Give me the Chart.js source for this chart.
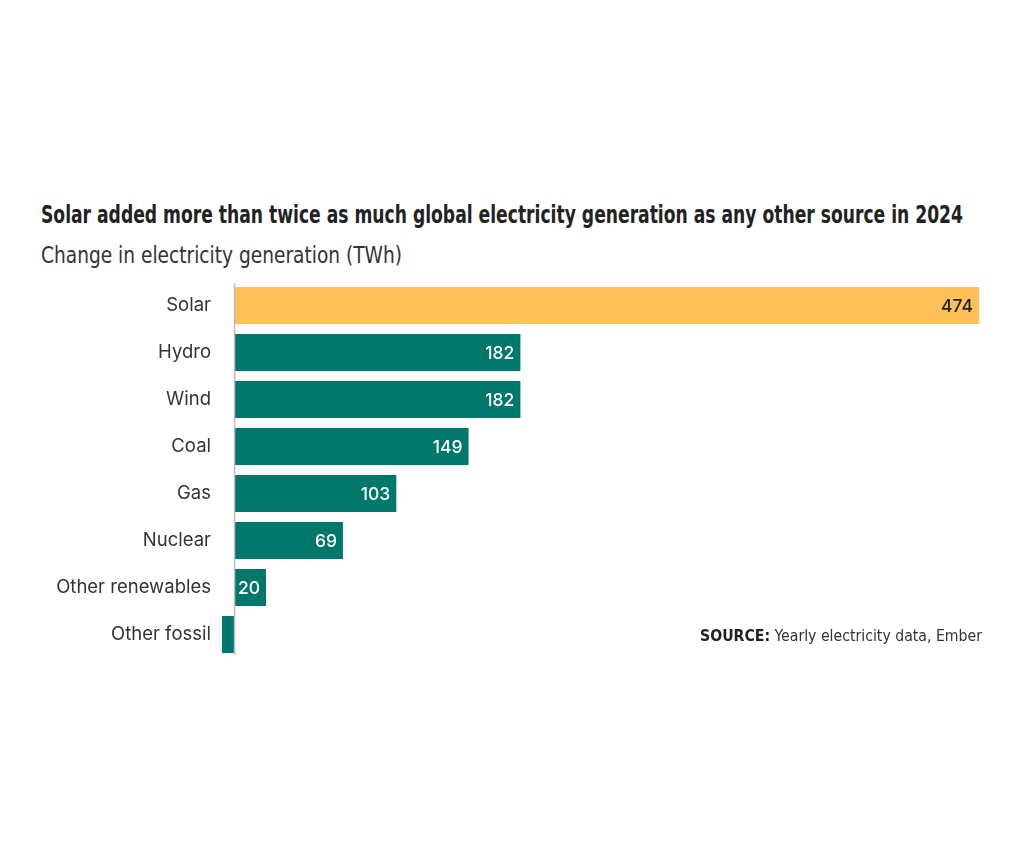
<!DOCTYPE html>
<html>
<head>
<meta charset="utf-8">
<script src="https://cdn.jsdelivr.net/npm/chart.js@4/dist/chart.umd.min.js"></script>
<style>
  html, body { margin: 0; padding: 0; background: #fff; }
  body { width: 1024px; height: 866px; position: relative; overflow: hidden; }
  .cond { font-family: "Liberation Sans Narrow", "DejaVu Sans Condensed", "Roboto Condensed", Roboto, sans-serif; font-stretch: condensed; transform-origin: left top; }
  #title { position: absolute; left: 41px; top: 200px; font-size: 25px; font-weight: bold; color: #222; white-space: nowrap; }
  #subtitle { position: absolute; left: 41px; top: 242px; font-size: 23px; font-weight: 300; color: #333; white-space: nowrap; }
  #source { position: absolute; left: 700px; top: 626px; font-size: 16.5px; color: #333; white-space: nowrap; }
  #source b { color: #222; }
  #wrap { position: absolute; left: 0; top: 282px; width: 1024px; height: 376px; }
</style>
</head>
<body>
<div id="title" class="cond" data-w="922">Solar added more than twice as much global electricity generation as any other source in 2024</div>
<div id="subtitle" class="cond" data-w="361">Change in electricity generation (TWh)</div>
<div id="wrap"><canvas id="chart"></canvas></div>
<div id="source" class="cond" data-w="282"><b>SOURCE:</b> Yearly electricity data, Ember</div>
<script>
// categorias y valores (TWh)
const sources = ['Solar', 'Hydro', 'Wind', 'Coal', 'Gas', 'Nuclear', 'Other renewables', 'Other fossil'];
const changeTWh = [474, 182, 182, 149, 103, 69, 20, -8];
const valueLabels = ['474', '182', '182', '149', '103', '69', '20', ''];

const SOLAR = '#FEC057';
const TEAL = '#00776B';
const labelFont = 'Inter, "Noto Sans", sans-serif';

// ajustar ancho de los textos condensados
document.querySelectorAll('[data-w]').forEach(el => {
  const w = el.getBoundingClientRect().width;
  el.style.transform = `scaleX(${Number(el.dataset.w) / w})`;
});

// etiquetas dentro de la barra
const barValues = {
  id: 'barValues',
  afterDatasetsDraw(chart) {
    const { ctx } = chart;
    const meta = chart.getDatasetMeta(0);
    ctx.save();
    ctx.font = '500 17.5px ' + labelFont;
    ctx.textAlign = 'right';
    ctx.textBaseline = 'middle';
    meta.data.forEach((bar, i) => {
      if (!valueLabels[i]) return;
      ctx.fillStyle = i === 0 ? '#222' : '#fff';
      ctx.fillText(valueLabels[i], bar.x - 6, bar.y + 1);
    });
    ctx.restore();
  }
};

// linea del cero
const zeroLine = {
  id: 'zeroLine',
  afterDatasetsDraw(chart) {
    const { ctx, chartArea } = chart;
    const x = chart.scales.x.getPixelForValue(0);
    ctx.save();
    ctx.strokeStyle = '#bdbdbd';
    ctx.lineWidth = 1.5;
    ctx.beginPath();
    ctx.moveTo(x, chartArea.top + 1);
    ctx.lineTo(x, chartArea.bottom - 3);
    ctx.stroke();
    ctx.restore();
  }
};

new Chart(document.getElementById('chart'), {
  type: 'bar',
  data: {
    labels: sources,
    datasets: [{
      data: changeTWh,
      backgroundColor: changeTWh.map((v, i) => i === 0 ? SOLAR : TEAL),
      borderWidth: 0,
      barPercentage: 0.79,
      categoryPercentage: 1
    }]
  },
  options: {
    indexAxis: 'y',
    responsive: true,
    maintainAspectRatio: false,
    animation: false,
    layout: { padding: { left: 0, right: 45, top: 0, bottom: 0 } },
    plugins: {
      legend: { display: false },
      tooltip: { enabled: false },
      title: { display: false }
    },
    scales: {
      x: {
        display: false,
        min: -8,
        max: 474
      },
      y: {
        grid: { display: false, drawTicks: false },
        border: { display: false },
        ticks: {
          color: '#333',
          padding: 11,
          font: { family: labelFont, size: 18.5 }
        },
        afterFit(scale) {
          scale.width = 222;
          scale.paddingTop = 0;
          scale.paddingBottom = 0;
        }
      }
    }
  },
  plugins: [barValues, zeroLine]
});
</script>
</body>
</html>
